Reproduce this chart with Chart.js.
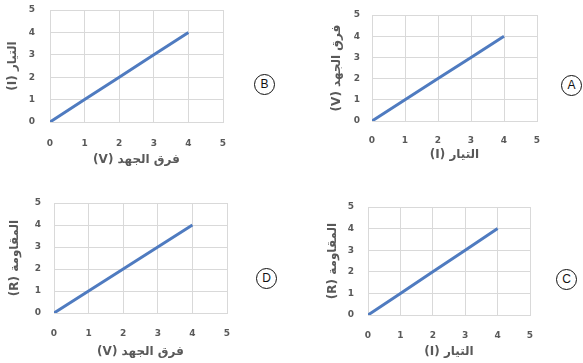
<!DOCTYPE html>
<html>
<head>
<meta charset="utf-8">
<script src="https://cdn.jsdelivr.net/npm/chart.js@4.4.0/dist/chart.umd.min.js"></script>
<style>
    html, body { margin: 0; padding: 0; background: #fff; }
    body { width: 583px; height: 363px; position: relative; overflow: hidden; font-family: "DejaVu Sans", sans-serif; }
    .box { position: absolute; }
    .box canvas { direction: rtl; }
    .tag {
        position: absolute; width: 19px; height: 19px; border: 1.5px solid #111; border-radius: 50%;
        font: 12px "Liberation Sans", Arial, sans-serif; color: #111; text-align: center; line-height: 19px;
    }
</style>
</head>
<body>
<div class="box" id="boxB"><canvas id="chartB"></canvas></div>
<div class="box" id="boxA"><canvas id="chartA"></canvas></div>
<div class="box" id="boxD"><canvas id="chartD"></canvas></div>
<div class="box" id="boxC"><canvas id="chartC"></canvas></div>
<div class="tag" style="left:254px; top:74px;">B</div>
<div class="tag" style="left:561px; top:75px;">A</div>
<div class="tag" style="left:256px; top:268px;">D</div>
<div class="tag" style="left:556px; top:269px;">C</div>
<script>
// data
const xValues = [0, 1, 2, 3, 4];
const yValues = [0, 1, 2, 3, 4];
const tickValues = [0, 1, 2, 3, 4, 5];
const labelCurrent = 'التيار (I)';
const labelVoltage = 'فرق الجهد (V)';
const labelResistance = 'المقاومة (R)';

// layout per panel: canvas box + fixed axis sizes
const panels = [
    { id: 'B', box: [0, 0, 240, 175], yWidth: 50, xHeight: 53, padTop: 10, padRight: 17, xTitle: labelVoltage, yTitle: labelCurrent, yPad: 15, xPad: 16, xtPad: 8, ytPad: 6 },
    { id: 'A', box: [320, 0, 230, 165], yWidth: 52, xHeight: 44, padTop: 15, padRight: 13, xTitle: labelCurrent, yTitle: labelVoltage, yPad: 12, xPad: 14, xtPad: 3, ytPad: 10 },
    { id: 'D', box: [0, 190, 245, 172], yWidth: 54, xHeight: 49, padTop: 13, padRight: 18, xTitle: labelVoltage, yTitle: labelResistance, yPad: 13, xPad: 15, xtPad: 3, ytPad: 8 },
    { id: 'C', box: [318, 190, 230, 172], yWidth: 50, xHeight: 47, padTop: 17, padRight: 18, xTitle: labelCurrent, yTitle: labelResistance, yPad: 14, xPad: 15, xtPad: 3, ytPad: 8 }
];

const tickColor = '#595959';
const gridColor = '#d9d9d9';
const lineColor = '#4f7bc0';
const tickFont = { family: 'DejaVu Sans', size: 9, weight: 'bold' };
const titleFont = { family: 'DejaVu Sans', size: 12, weight: 'bold' };

panels.forEach(p => {
    const [bx, by, bw, bh] = p.box;
    const box = document.getElementById('box' + p.id);
    box.style.left = bx + 'px';
    box.style.top = by + 'px';
    box.style.width = bw + 'px';
    box.style.height = bh + 'px';

    const ctx = document.getElementById('chart' + p.id);
    new Chart(ctx, {
        type: 'scatter',
        data: {
            datasets: [{
                data: xValues.map((x, i) => ({ x, y: yValues[i] })),
                showLine: true,
                borderColor: lineColor,
                borderWidth: 3,
                pointRadius: 0,
                fill: false
            }]
        },
        options: {
            responsive: true,
            maintainAspectRatio: false,
            animation: false,
            layout: { padding: { top: p.padTop, left: 0, right: p.padRight, bottom: 0 } },
            plugins: { legend: { display: false }, tooltip: { enabled: false } },
            scales: {
                x: {
                    type: 'linear',
                    min: 0,
                    max: 5,
                    afterBuildTicks: s => { s.ticks = tickValues.map(v => ({ value: v })); },
                    afterFit: s => { s.height = p.xHeight; },
                    border: { color: gridColor },
                    grid: { color: gridColor, drawTicks: true, tickLength: p.xPad, tickColor: 'transparent' },
                    ticks: { color: tickColor, padding: 0, font: tickFont },
                    title: {
                        display: true,
                        text: p.xTitle,
                        color: tickColor,
                        padding: { top: 0, bottom: p.xtPad },
                        font: titleFont
                    }
                },
                y: {
                    type: 'linear',
                    min: 0,
                    max: 5,
                    afterBuildTicks: s => { s.ticks = tickValues.map(v => ({ value: v })); },
                    afterFit: s => { s.width = p.yWidth; },
                    border: { color: gridColor },
                    grid: { color: gridColor, drawTicks: true, tickLength: p.yPad, tickColor: 'transparent' },
                    ticks: { color: tickColor, padding: 0, font: tickFont },
                    title: {
                        display: true,
                        text: p.yTitle,
                        color: tickColor,
                        padding: { top: p.ytPad, bottom: 0 },
                        font: titleFont
                    }
                }
            }
        }
    });
});
</script>
</body>
</html>
